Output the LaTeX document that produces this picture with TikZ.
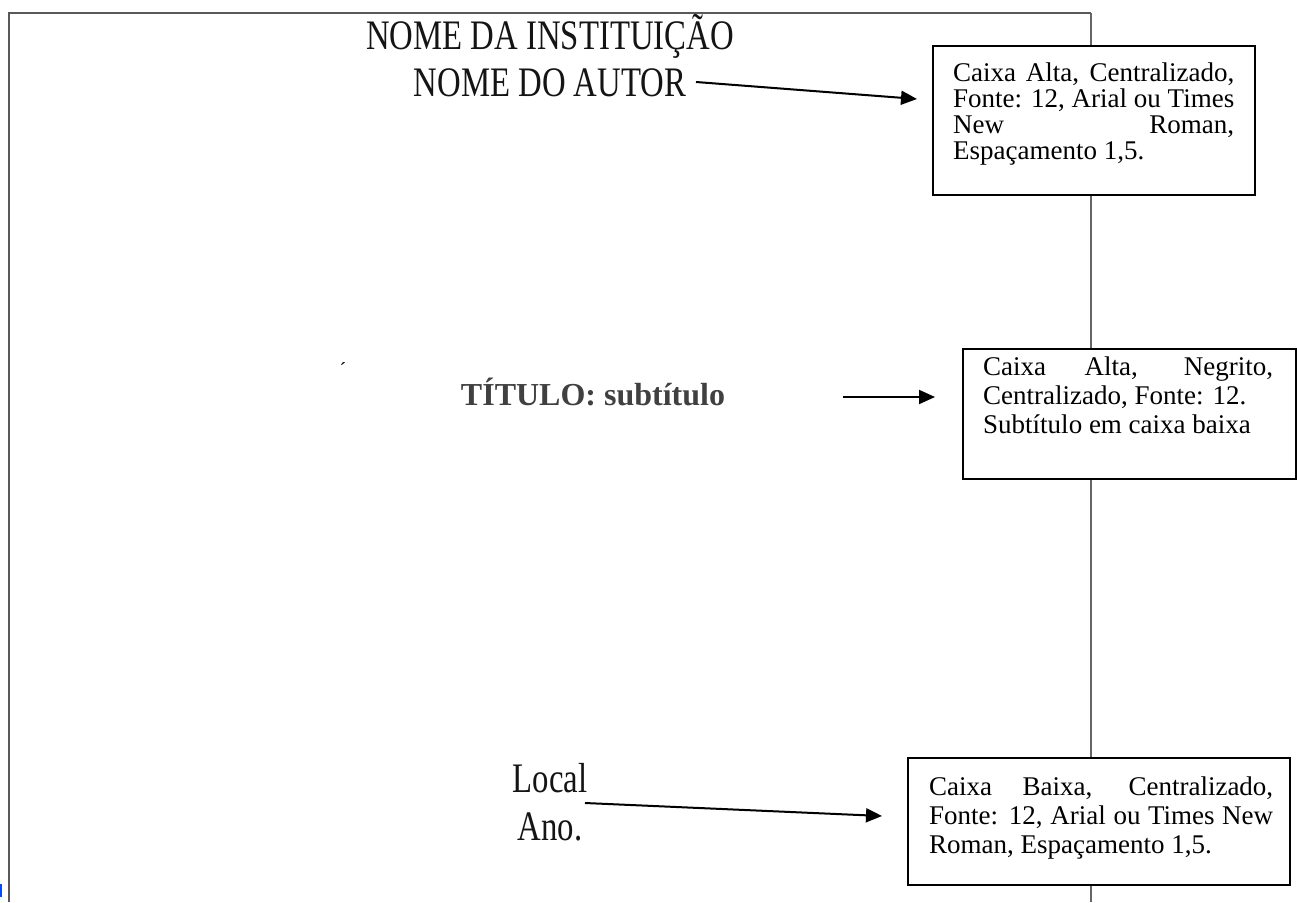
\documentclass[tikz,border=0pt]{standalone}
\usepackage{fontspec}
\setmainfont{Liberation Serif}
\newfontfamily\condserif[FakeStretch=0.78]{Liberation Serif}
\usetikzlibrary{arrows.meta}
\tikzset{
  pageframe/.style={draw=black!65, line width=2pt},
  rline/.style={draw=black!60, line width=1.5pt},
  notebox/.style={draw=black, line width=2pt, fill=white, inner sep=0pt, anchor=north west},
  boxtext/.style={inner sep=0pt, align=justify, anchor=base west, font=\fontsize{27}{29}\selectfont},
  arr/.style={-{Triangle[length=16pt,width=14pt]}, line width=2pt},
  head/.style={font=\condserif\fontsize{42}{48}\selectfont, text=black!92, inner sep=0pt, anchor=base},
}
\begin{document}
\begin{tikzpicture}[x=1pt,y=-1pt]
\useasboundingbox (0,0) rectangle (1297,902);
% page frame
\coordinate (ftl) at (9,13);
\coordinate (fbl) at (9,902);
\coordinate (ftr) at (1091,13);
\coordinate (fbr) at (1091,902);
\draw[pageframe] (fbl) -- (ftl) -- (ftr);
\draw[rline] (ftr) -- (fbr);
\fill[blue!70!cyan] (0,884) rectangle (2,897);
% page texts
\node[head] (inst) at (550,49) {NOME DA INSTITUIÇÃO};
\node[head] (autor) at (550,96) {NOME DO AUTOR};
\node[inner sep=0pt, anchor=base, font=\fontsize{32}{36}\selectfont\bfseries, text=black!75] (tit) at (593,405) {TÍTULO: subtítulo};
\node[head] (local) at (550,792) {Local};
\node[head] (ano) at (550,840) {Ano.};
\node[inner sep=0pt, font=\fontsize{20}{20}\selectfont] (acc) at (343,370) {´};
% boxes
\node[notebox, minimum width=322pt, minimum height=149pt] (b1) at (932,45) {};
\node[boxtext, text width=281pt, font=\fontsize{27}{26}\selectfont] (t1) at (953,81) {Caixa Alta, Centralizado,\linebreak Fonte: 12, Arial ou Times\linebreak New Roman,\linebreak Espaçamento 1,5.};
\node[notebox, minimum width=333pt, minimum height=130pt] (b2) at (962,348) {};
\node[boxtext, text width=290pt] (t2) at (983,375) {Caixa Alta, Negrito,\linebreak Centralizado, Fonte: 12.\\ Subtítulo em caixa baixa};
\node[notebox, minimum width=382pt, minimum height=127pt] (b3) at (907,757) {};
\node[boxtext, text width=344pt] (t3) at (929,795) {Caixa Baixa, Centralizado,\linebreak Fonte: 12, Arial ou Times New\linebreak Roman, Espaçamento 1,5.};
% arrows
\coordinate (a1s) at (696,82);
\coordinate (a1e) at (917,99);
\coordinate (a2s) at (843,397);
\coordinate (a2e) at (935,397);
\coordinate (a3s) at (585,803);
\coordinate (a3e) at (882,816);
\draw[arr] (a1s) -- (a1e);
\draw[arr] (a2s) -- (a2e);
\draw[arr] (a3s) -- (a3e);
\end{tikzpicture}
\end{document}
